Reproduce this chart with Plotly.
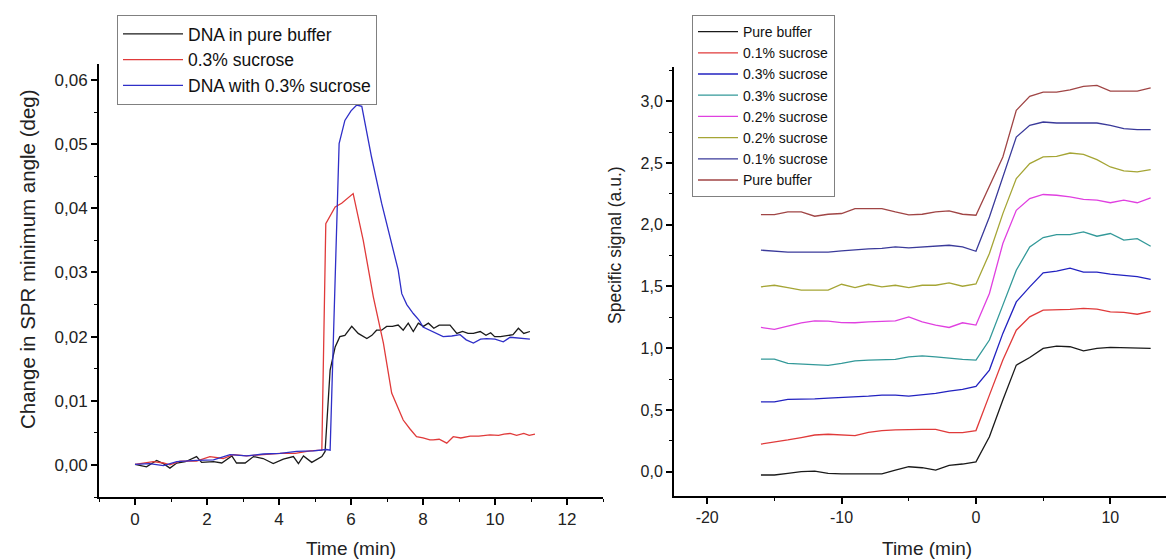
import plotly.graph_objects as go

# ---------------- Left panel data ----------------
t_dna_buffer = [0.0, 0.32, 0.6, 0.79, 0.97, 1.16, 1.4, 1.71, 1.85, 2.18, 2.41, 2.69, 2.82, 3.06, 3.29, 3.56,
                3.84, 4.12, 4.4, 4.54, 4.68, 4.91, 5.19, 5.28, 5.42, 5.56, 5.69, 5.83, 6.02, 6.2, 6.44, 6.58,
                6.71, 6.85, 6.99, 7.15, 7.31, 7.45, 7.59, 7.73, 7.87, 8.01, 8.15, 8.3, 8.45, 8.6, 8.75, 8.94,
                9.1, 9.25, 9.4, 9.59, 9.75, 9.88, 9.99, 10.15, 10.35, 10.5, 10.65, 10.8, 10.97]
v_dna_buffer = [0.0001, -0.0003, 0.0007, 0.0002, -0.0005, 0.0003, 0.0005, 0.0013, 0.0004, 0.0005, 0.0003, 0.0014,
                0.0003, 0.0003, 0.0013, 0.0010, 0.0002, 0.0009, 0.0013, 0.0002, 0.0014, 0.0004, 0.0013, 0.0021,
                0.0148, 0.0184, 0.0200, 0.0202, 0.0216, 0.0205, 0.0197, 0.0202, 0.0210, 0.0210, 0.0216, 0.0216,
                0.0218, 0.0210, 0.0221, 0.0208, 0.0221, 0.0216, 0.0221, 0.0213, 0.0218, 0.0218, 0.0218, 0.0205,
                0.0208, 0.0205, 0.0205, 0.0208, 0.0202, 0.0206, 0.0200, 0.0200, 0.0202, 0.0203, 0.0213, 0.0205,
                0.0208]

t_sucrose = [0.0, 0.51, 0.79, 0.97, 1.25, 1.71, 2.08, 2.45, 2.73, 3.1, 3.56, 4.03, 4.45, 4.86, 5.19, 5.3,
             5.56, 5.74, 6.06, 6.34, 6.62, 6.9, 7.13, 7.45, 7.64, 7.82, 8.0, 8.19, 8.28, 8.45, 8.66, 8.84,
             9.05, 9.31, 9.55, 9.86, 10.1, 10.25, 10.42, 10.6, 10.8, 10.95, 11.11]
v_sucrose = [0.0001, 0.0005, 0.0003, 0.0000, 0.0006, 0.0006, 0.0013, 0.0010, 0.0016, 0.0014, 0.0016, 0.0018,
             0.0018, 0.0022, 0.0023, 0.0376, 0.0402, 0.0408, 0.0423, 0.0350, 0.0262, 0.0190, 0.0112, 0.0070,
             0.0056, 0.0044, 0.0042, 0.0039, 0.0039, 0.0040, 0.0034, 0.0044, 0.0042, 0.0045, 0.0045, 0.0047,
             0.0046, 0.0048, 0.0049, 0.0046, 0.0049, 0.0046, 0.0048]

t_dna_sucrose = [0.0, 0.4, 0.79, 1.16, 1.71, 2.18, 2.64, 3.1, 3.56, 4.03, 4.49, 4.95, 5.32, 5.42, 5.67, 5.83,
                 6.0, 6.16, 6.3, 6.57, 6.85, 7.08, 7.31, 7.41, 7.55, 7.73, 7.9, 8.0, 8.19, 8.35, 8.56, 8.8,
                 9.03, 9.2, 9.4, 9.6, 9.77, 10.0, 10.23, 10.42, 10.7, 10.97]
v_dna_sucrose = [0.0001, 0.0002, -0.0001, 0.0005, 0.0007, 0.0008, 0.0016, 0.0014, 0.0017, 0.0018, 0.0021,
                 0.0022, 0.0024, 0.0023, 0.0501, 0.0537, 0.0552, 0.0561, 0.0559, 0.0480, 0.0408, 0.0356,
                 0.0304, 0.0267, 0.0250, 0.0236, 0.0225, 0.0215, 0.0210, 0.0205, 0.0200, 0.0201, 0.0203,
                 0.0195, 0.0190, 0.0196, 0.0197, 0.0196, 0.0192, 0.0199, 0.0197, 0.0196]

left_names = ["DNA in pure buffer", "0.3% sucrose", "DNA with 0.3% sucrose"]
left_colors = ["#1a1a1a", "#e03a3a", "#2f2fc8"]

# ---------------- Right panel data ----------------
t_right = [-16, -15, -14, -13, -12, -11, -10, -9, -8, -7, -6, -5, -4, -3, -2, -1, 0,
           1, 2, 3, 4, 5, 6, 7, 8, 9, 10, 11, 12, 13]
right_names = ["Pure buffer", "0.1% sucrose", "0.3% sucrose", "0.3% sucrose",
               "0.2% sucrose", "0.2% sucrose", "0.1% sucrose", "Pure buffer"]
right_colors = ["#1a1a1a", "#e03a3a", "#2222c0", "#339999", "#e040e0", "#a5a535", "#3a3a9a", "#a04545"]

s_pure_1 = [-0.027, -0.027, -0.013, 0.000, 0.005, -0.013, -0.018, -0.018, -0.018, -0.018, 0.013, 0.040,
            0.032, 0.013, 0.051, 0.062, 0.080, 0.283, 0.580, 0.863, 0.925, 0.998, 1.017, 1.012, 0.979,
            0.998, 1.006, 1.004, 0.998, 0.998]
s_01_1 = [0.224, 0.238, 0.257, 0.276, 0.297, 0.303, 0.300, 0.292, 0.319, 0.333, 0.338, 0.343, 0.343,
          0.343, 0.316, 0.316, 0.333, 0.620, 0.904, 1.146, 1.254, 1.308, 1.308, 1.314, 1.322, 1.316,
          1.295, 1.290, 1.275, 1.299]
s_03_1 = [0.566, 0.566, 0.585, 0.585, 0.590, 0.596, 0.601, 0.601, 0.612, 0.620, 0.620, 0.612, 0.620,
          0.634, 0.653, 0.666, 0.690, 0.823, 1.120, 1.375, 1.497, 1.610, 1.625, 1.649, 1.617, 1.617,
          1.600, 1.592, 1.579, 1.557]
s_03_2 = [0.912, 0.912, 0.877, 0.871, 0.861, 0.861, 0.877, 0.898, 0.904, 0.904, 0.909, 0.930, 0.938,
          0.930, 0.917, 0.909, 0.904, 1.066, 1.349, 1.632, 1.820, 1.896, 1.920, 1.920, 1.942, 1.907,
          1.929, 1.875, 1.888, 1.826]
s_02_1 = [1.168, 1.152, 1.179, 1.206, 1.222, 1.219, 1.208, 1.206, 1.214, 1.219, 1.222, 1.254, 1.214,
          1.187, 1.168, 1.206, 1.187, 1.443, 1.848, 2.117, 2.212, 2.245, 2.239, 2.226, 2.205, 2.200,
          2.178, 2.200, 2.178, 2.217]
s_02_2 = [1.497, 1.510, 1.491, 1.470, 1.470, 1.470, 1.518, 1.491, 1.518, 1.497, 1.510, 1.491, 1.510,
          1.510, 1.529, 1.502, 1.520, 1.767, 2.090, 2.374, 2.495, 2.549, 2.554, 2.581, 2.570, 2.527,
          2.468, 2.436, 2.428, 2.447]
s_01_2 = [1.794, 1.786, 1.778, 1.778, 1.778, 1.778, 1.789, 1.800, 1.805, 1.808, 1.820, 1.812, 1.820,
          1.826, 1.834, 1.820, 1.785, 2.063, 2.387, 2.710, 2.805, 2.832, 2.824, 2.824, 2.824, 2.824,
          2.805, 2.778, 2.770, 2.770]
s_pure_2 = [2.082, 2.082, 2.104, 2.104, 2.069, 2.085, 2.091, 2.131, 2.131, 2.131, 2.104, 2.080, 2.085,
            2.104, 2.112, 2.085, 2.077, 2.306, 2.549, 2.926, 3.040, 3.074, 3.074, 3.093, 3.121, 3.128,
            3.082, 3.082, 3.082, 3.109]
right_series = [s_pure_1, s_01_1, s_03_1, s_03_2, s_02_1, s_02_2, s_01_2, s_pure_2]

W, H = 1166, 559
FONT = "Liberation Sans, Arial, sans-serif"
TXT = "#222222"

fig = go.Figure()

left_x = [t_dna_buffer, t_sucrose, t_dna_sucrose]
left_y = [v_dna_buffer, v_sucrose, v_dna_sucrose]
for name, col, xs, ys in zip(left_names, left_colors, left_x, left_y):
    fig.add_trace(go.Scatter(x=xs, y=ys, mode="lines", name=name,
                             line=dict(color=col, width=1.3), xaxis="x", yaxis="y",
                             legend="legend"))

for name, col, ys in zip(right_names, right_colors, right_series):
    fig.add_trace(go.Scatter(x=t_right, y=ys, mode="lines", name=name,
                             line=dict(color=col, width=1.3), xaxis="x2", yaxis="y2",
                             legend="legend2"))


def px_x(p):
    return p / W


def px_y(p):
    return (H - p) / H


def axis_common(fs):
    return dict(showline=True, linecolor="black", linewidth=2, ticks="outside",
                ticklen=6, tickwidth=1.5, tickcolor="black", showgrid=False, zeroline=False,
                tickfont=dict(family=FONT, size=fs, color=TXT), mirror=False)


minor_style = dict(ticks="outside", ticklen=3, tickcolor="black", tickwidth=1.2)

fig.update_layout(
    width=W, height=H,
    margin=dict(l=0, r=0, t=0, b=0),
    paper_bgcolor="white", plot_bgcolor="white",
    separators=",.",
    font=dict(family=FONT, color=TXT),
    xaxis=dict(domain=[px_x(99), px_x(603)], range=[-1, 13], dtick=2, tick0=0,
               minor=dict(dtick=1, tick0=0, **minor_style),
               anchor="y", **axis_common(17)),
    yaxis=dict(domain=[px_y(497), px_y(64)], range=[-0.005, 0.0625], dtick=0.01, tick0=0,
               tickformat=".2f",
               minor=dict(dtick=0.005, tick0=0, **minor_style),
               anchor="x", **axis_common(17)),
    xaxis2=dict(domain=[px_x(674), px_x(1166)], range=[-22.47, 14.14],
                tickmode="array", tickvals=[-20, -10, 0, 10], ticktext=["-20", "-10", "0", "10"],
                minor=dict(tickvals=[-15, -5, 5], **minor_style),
                anchor="y2", **axis_common(16)),
    yaxis2=dict(domain=[px_y(496), px_y(66.7)], range=[-0.197, 3.28], dtick=0.5, tick0=0,
                tickformat=".1f",
                minor=dict(dtick=0.25, tick0=0, **minor_style),
                anchor="x2", **axis_common(16)),
    legend=dict(x=px_x(117), y=px_y(15), xanchor="left", yanchor="top",
                bgcolor="white", bordercolor="#808080", borderwidth=1,
                font=dict(family=FONT, size=17.5, color="#111111"),
                itemwidth=60, tracegroupgap=0),
    legend2=dict(x=px_x(692), y=px_y(15), xanchor="left", yanchor="top",
                 bgcolor="white", bordercolor="#808080", borderwidth=1,
                 font=dict(family=FONT, size=14, color="#111111"),
                 itemwidth=40, tracegroupgap=0),
    showlegend=True,
)

fig.add_annotation(text="Time (min)", x=px_x(351), y=px_y(548), xref="paper", yref="paper",
                   showarrow=False, font=dict(family=FONT, size=19, color=TXT),
                   xanchor="center", yanchor="middle")
fig.add_annotation(text="Time (min)", x=px_x(927), y=px_y(548), xref="paper", yref="paper",
                   showarrow=False, font=dict(family=FONT, size=19, color=TXT),
                   xanchor="center", yanchor="middle")
fig.add_annotation(text="Change in SPR minimum angle (deg)", x=px_x(27), y=px_y(259),
                   xref="paper", yref="paper", showarrow=False,
                   font=dict(family=FONT, size=20.5, color=TXT), textangle=-90,
                   xanchor="center", yanchor="middle")
fig.add_annotation(text="Specific signal (a.u.)", x=px_x(615), y=px_y(245),
                   xref="paper", yref="paper", showarrow=False,
                   font=dict(family=FONT, size=17.5, color=TXT), textangle=-90,
                   xanchor="center", yanchor="middle")

fig.write_html("out.html", config={"displayModeBar": False},
               post_script="document.body.style.margin='0px';document.body.style.overflow='hidden';")
